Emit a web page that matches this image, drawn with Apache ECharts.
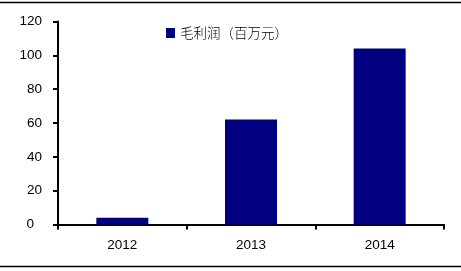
<!DOCTYPE html>
<html>
<head>
<meta charset="utf-8">
<script src="https://cdn.jsdelivr.net/npm/echarts@6/dist/echarts.min.js"></script>
<style>
html,body{margin:0;padding:0;background:#fff;}
#chart{width:461px;height:271px;}
</style>
</head>
<body>
<div id="chart"></div>
<script>
const categories = ['2012', '2013', '2014'];
const grossProfit = [4, 62, 104];
const seriesName = '毛利润（百万元）';
const yTicks = { min: 0, max: 120, interval: 20 };

const chart = echarts.init(document.getElementById('chart'), null, { renderer: 'canvas' });
chart.setOption({
  animation: false,
  backgroundColor: '#ffffff',
  grid: { left: 58, right: 17, top: 21.5, bottom: 46.5, containLabel: false },
  legend: {
    data: [seriesName],
    left: 166, top: 23,
    padding: 0,
    itemWidth: 9, itemHeight: 10, itemGap: 5,
    icon: 'rect',
    textStyle: { fontFamily: '"Noto Sans CJK SC"', fontSize: 13.5, color: '#000', fontWeight: 300, lineHeight: 20 }
  },
  xAxis: {
    type: 'category',
    data: categories,
    axisLine: { lineStyle: { color: '#000', width: 2 } },
    axisTick: { show: true, length: 5, lineStyle: { color: '#000', width: 2 } },
    axisLabel: { color: '#000', fontFamily: 'Liberation Sans, Arial', fontSize: 13.5, margin: 14 }
  },
  yAxis: {
    type: 'value',
    min: yTicks.min, max: yTicks.max, interval: yTicks.interval,
    splitLine: { show: false },
    axisLine: { show: true, lineStyle: { color: '#000', width: 2 } },
    axisTick: { show: true, length: 5, lineStyle: { color: '#000', width: 2 } },
    axisLabel: {
      color: '#000', fontFamily: 'Liberation Sans, Arial', fontSize: 13.5, margin: 16,
      formatter: function (v) { return v === 0 ? '{z|0}' : String(v); },
      rich: { z: { padding: [0, 8, 0, 0], color: '#000', fontFamily: 'Liberation Sans, Arial', fontSize: 13.5 } }
    }
  },
  series: [{
    name: seriesName,
    type: 'bar',
    data: grossProfit,
    barWidth: 52,
    itemStyle: { color: '#000080' }
  }],
  graphic: [
    { type: 'line', shape: { x1: 0, y1: 2.5, x2: 461, y2: 2.5 }, style: { stroke: '#000', lineWidth: 1.5 }, silent: true },
    { type: 'line', shape: { x1: 0, y1: 266.5, x2: 461, y2: 266.5 }, style: { stroke: '#000', lineWidth: 1.5 }, silent: true }
  ]
});
</script>
</body>
</html>
